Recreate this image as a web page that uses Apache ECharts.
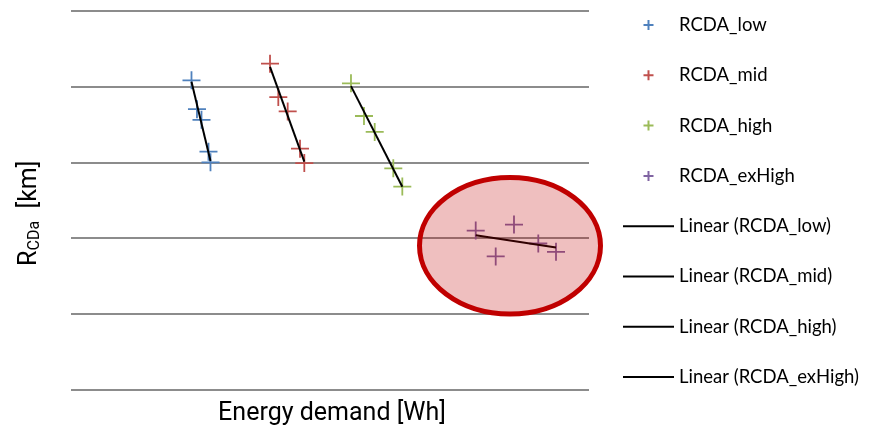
<!DOCTYPE html>
<html>
<head>
<meta charset="utf-8">
<script src="https://cdn.jsdelivr.net/npm/echarts@6/dist/echarts.min.js"></script>
<style>
html,body{margin:0;padding:0;background:#fff;}
#chart{width:869px;height:439px;}
</style>
</head>
<body>
<div id="chart"></div>
<script>
// ---- data (arbitrary units: x = energy demand, y = R_CDa) ----
const seriesNames = ['RCDA_low', 'RCDA_mid', 'RCDA_high', 'RCDA_exHigh'];
const lowX = [23.26, 24.32, 25.19, 26.54, 26.93];
const lowY = [4.08, 3.70, 3.56, 3.14, 3.00];
const midX = [38.42, 40.02, 41.83, 44.21, 45.04];
const midY = [4.30, 3.86, 3.67, 3.18, 2.99];
const highX = [54.05, 56.56, 58.63, 62.22, 63.96];
const highY = [4.04, 3.61, 3.40, 2.92, 2.68];
const exHighX = [78.13, 81.99, 85.52, 90.21, 93.63];
const exHighY = [2.10, 1.76, 2.18, 1.93, 1.82];
// highlight ellipse annotation: [centerX, centerY, radiusX, radiusY] in data units
const highlightEllipse = [84.75, 1.90, 17.47, 0.90];
const yTicks = [0, 1, 2, 3, 4, 5];

const colors = ['#4F81BD', '#C0504D', '#9BBB59', '#8064A2'];
const xs = [lowX, midX, highX, exHighX];
const ys = [lowY, midY, highY, exHighY];

function pairs(x, y) { return x.map((v, i) => [v, y[i]]); }
function linearFit(x, y) {
  const n = x.length;
  const mx = x.reduce((a, b) => a + b, 0) / n;
  const my = y.reduce((a, b) => a + b, 0) / n;
  let sxy = 0, sxx = 0;
  for (let i = 0; i < n; i++) { sxy += (x[i] - mx) * (y[i] - my); sxx += (x[i] - mx) ** 2; }
  const b = sxy / sxx, a = my - b * mx;
  const x0 = Math.min(...x), x1 = Math.max(...x);
  return [[x0, a + b * x0], [x1, a + b * x1]];
}

const plusPath = 'path://M9,0h2v9h9v2h-9v9h-2v-9h-9v-2h9z';
const legendPlus = 'path://M4,0h2v4h4v2h-4v4h-2v-4h-4v-2h4z';
const legendLine = 'path://M0,0h51v2h-51z';
const titleFont = 'Roboto, "Liberation Sans", sans-serif';

const series = [];
seriesNames.forEach((nm, i) => {
  series.push({
    type: 'scatter', name: nm, z: 3,
    symbol: plusPath, symbolSize: 18,
    itemStyle: { color: colors[i], opacity: 1 },
    data: pairs(xs[i], ys[i])
  });
});
seriesNames.forEach((nm, i) => {
  series.push({
    type: 'line', name: 'Linear (' + nm + ')', z: 4,
    showSymbol: false, symbol: 'none',
    color: '#000',
    lineStyle: { color: '#000', width: 2 },
    data: linearFit(xs[i], ys[i])
  });
});
series.push({
  type: 'custom',
  name: 'highlight',
  z: 6,
  clip: false,
  silent: true,
  data: [highlightEllipse],
  renderItem: function (params, api) {
    const c = api.coord([api.value(0), api.value(1)]);
    const s = api.size([api.value(2), api.value(3)]);
    return {
      type: 'ellipse',
      shape: { cx: c[0], cy: c[1], rx: s[0], ry: s[1] },
      style: { fill: 'rgba(192,0,0,0.25)', stroke: '#C00000', lineWidth: 5 }
    };
  }
});

const legendData = seriesNames.map(nm => ({ name: nm, icon: legendPlus }))
  .concat(seriesNames.map(nm => ({ name: 'Linear (' + nm + ')', icon: legendLine })));

const chart = echarts.init(document.getElementById('chart'), null, { renderer: 'canvas' });
chart.setOption({
  animation: false,
  backgroundColor: '#ffffff',
  grid: { left: 71, right: 280, top: 10.5, bottom: 49, containLabel: false },
  xAxis: {
    type: 'value', min: 0, max: 100,
    axisLine: { show: false }, axisTick: { show: false }, axisLabel: { show: false },
    splitLine: { show: false },
    name: 'Energy demand [Wh]', nameLocation: 'middle', nameGap: 11,
    nameTextStyle: { fontFamily: titleFont, fontSize: 25, color: '#000', padding: [0, 0, 0, 4] }
  },
  yAxis: {
    type: 'value', min: 0, max: 5, interval: 1,
    axisLine: { show: false }, axisTick: { show: false }, axisLabel: { show: false },
    splitLine: { show: true, lineStyle: { color: '#8c8c8c', width: 2 } },
    name: '{m|R}{s|CDa}{m|  [km]}', nameLocation: 'middle', nameGap: 26, nameRotate: 90,
    nameTextStyle: {
      fontFamily: titleFont, color: '#000', padding: [0, 26, 0, 0],
      rich: {
        m: { fontSize: 25, fontFamily: titleFont, color: '#000', lineHeight: 30, verticalAlign: 'middle' },
        s: { fontSize: 16, fontFamily: titleFont, color: '#000', lineHeight: 30, verticalAlign: 'bottom', padding: [0, 0, 2, 0] }
      }
    }
  },
  legend: {
    orient: 'vertical', left: 623, top: 15, padding: 0,
    itemWidth: 51, itemHeight: 10, itemGap: 30.3,
    selectedMode: false,
    textStyle: { fontFamily: 'Lato, sans-serif', fontSize: 18.5, color: '#000', lineHeight: 20 },
    data: legendData
  },
  series: series
});
</script>
</body>
</html>
